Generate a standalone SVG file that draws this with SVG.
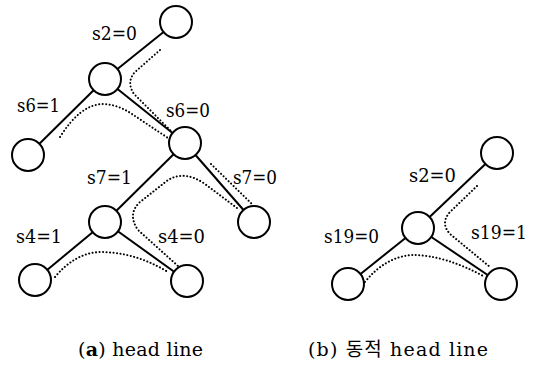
<svg xmlns="http://www.w3.org/2000/svg" width="534" height="367" viewBox="0 0 534 367">
<style>
.edge{stroke:#000;stroke-width:2;fill:none}
.dot{stroke:#000;stroke-width:2;fill:none;stroke-dasharray:0.1 3.4;stroke-linecap:round}
.node{fill:#fff;stroke:#000;stroke-width:2}
.lbl{font-size:19px;fill:#000}
.cap{font-size:19px;fill:#000}
</style>
<rect width="534" height="367" fill="#fff"/>
<g id="connectors">
<line class="edge" x1="176" y1="22" x2="105" y2="79"/>
<line class="edge" x1="105" y1="79" x2="28" y2="155"/>
<line class="edge" x1="105" y1="79" x2="185" y2="143"/>
<line class="edge" x1="185" y1="143" x2="105" y2="222"/>
<line class="edge" x1="185" y1="143" x2="254" y2="222"/>
<line class="edge" x1="105" y1="222" x2="35" y2="280"/>
<line class="edge" x1="105" y1="222" x2="187" y2="281"/>
<line class="edge" x1="497" y1="153" x2="418" y2="228"/>
<line class="edge" x1="418" y1="228" x2="348" y2="284"/>
<line class="edge" x1="418" y1="228" x2="501" y2="284"/>
<path class="dot" d="M160,50 L135,72 Q126,82 134,94 L171,131"/>
<path class="dot" d="M60,137 Q80,105 102,104 Q117,104 132,114 L168,138"/>
<path class="dot" d="M211,164 L253,205"/>
<path class="dot" d="M237,208 L205,184 Q185,170 168,180 L140,202 Q127,214 138,230 L178,266"/>
<path class="dot" d="M55,277 Q75,253 100,252 Q135,252 168,272"/>
<path class="dot" d="M477,186 L450,212 Q440,223 450,234 L490,267"/>
<path class="dot" d="M365,282 Q385,257 412,255 Q445,255 485,277"/>
</g>
<g id="n_a_root"><circle class="node" cx="176" cy="22" r="16"/></g>
<g id="n_a_1"><circle class="node" cx="105" cy="79" r="16"/></g>
<g id="n_a_leaf1"><circle class="node" cx="28" cy="155" r="16"/></g>
<g id="n_a_2"><circle class="node" cx="185" cy="143" r="16"/></g>
<g id="n_a_3"><circle class="node" cx="105" cy="222" r="16"/></g>
<g id="n_a_leaf2"><circle class="node" cx="254" cy="222" r="16"/></g>
<g id="n_a_leaf3"><circle class="node" cx="35" cy="280" r="16"/></g>
<g id="n_a_leaf4"><circle class="node" cx="187" cy="281" r="16"/></g>
<g id="n_b_top"><circle class="node" cx="497" cy="153" r="16"/></g>
<g id="n_b_mid"><circle class="node" cx="418" cy="228" r="16"/></g>
<g id="n_b_left"><circle class="node" cx="348" cy="284" r="16"/></g>
<g id="n_b_right"><circle class="node" cx="501" cy="284" r="16"/></g>
<g id="labels" font-family="DejaVu Serif, serif">
<text class="lbl" x="92" y="40" textLength="45" lengthAdjust="spacingAndGlyphs">s2=0</text>
<text class="lbl" x="17" y="112" textLength="43" lengthAdjust="spacingAndGlyphs">s6=1</text>
<text class="lbl" x="166" y="117" textLength="44" lengthAdjust="spacingAndGlyphs">s6=0</text>
<text class="lbl" x="87" y="184" textLength="45" lengthAdjust="spacingAndGlyphs">s7=1</text>
<text class="lbl" x="233" y="184" textLength="44" lengthAdjust="spacingAndGlyphs">s7=0</text>
<text class="lbl" x="16" y="243" textLength="46" lengthAdjust="spacingAndGlyphs">s4=1</text>
<text class="lbl" x="158" y="243" textLength="47" lengthAdjust="spacingAndGlyphs">s4=0</text>
<text class="lbl" x="409" y="182" textLength="47" lengthAdjust="spacingAndGlyphs">s2=0</text>
<text class="lbl" x="324" y="243" textLength="55" lengthAdjust="spacingAndGlyphs">s19=0</text>
<text class="lbl" x="471" y="239" textLength="56" lengthAdjust="spacingAndGlyphs">s19=1</text>
</g>
<g id="captions" font-family="DejaVu Serif, Noto Sans CJK KR, serif">
<text class="cap" x="78" y="356" textLength="125" lengthAdjust="spacing">(<tspan font-weight="bold">a</tspan>) head line</text>
<text class="cap" x="308" y="356" textLength="180" lengthAdjust="spacing">(b) 동적 head line</text>
</g>
</svg>
